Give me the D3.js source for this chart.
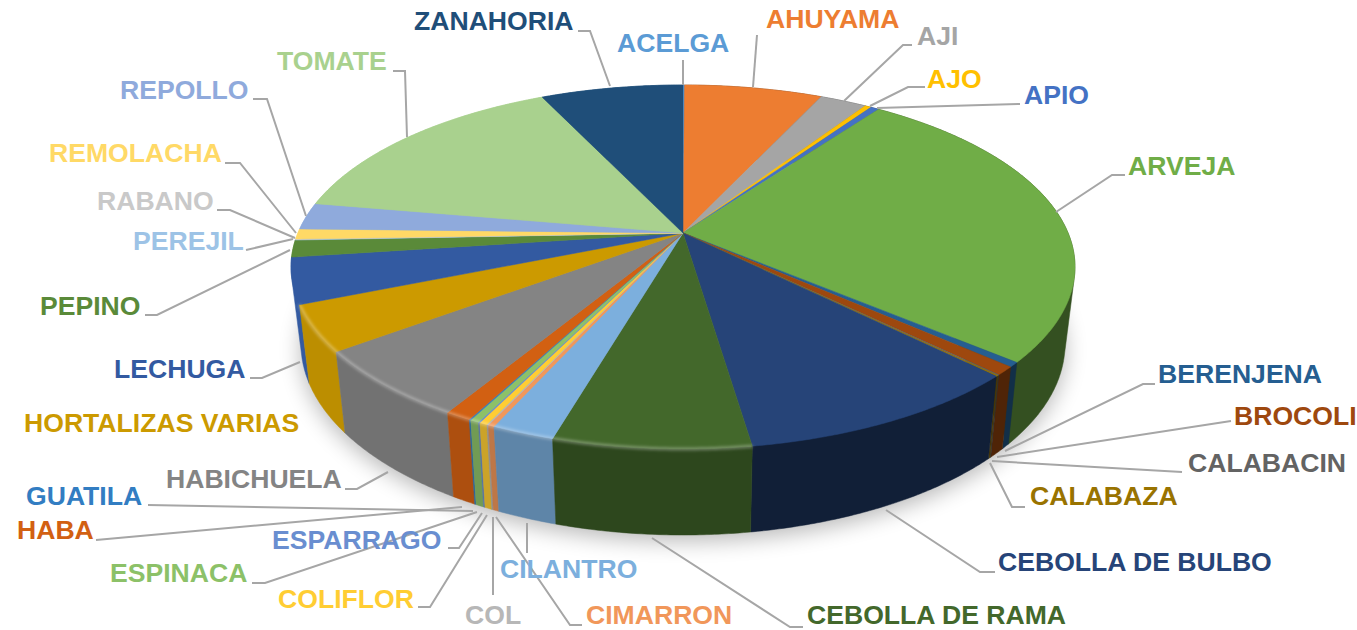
<!DOCTYPE html>
<html>
<head>
<meta charset="utf-8">
<script src="https://cdn.jsdelivr.net/npm/d3@7"></script>
<style>
  html, body { margin: 0; padding: 0; background: #fff; }
  text { font-family: "Liberation Sans", Arial, sans-serif; font-weight: bold; font-size: 26.6px; }
</style>
</head>
<body>
<svg width="1357" height="630"></svg>
<script>
// share of each crop (%)
let categories = ["ACELGA", "AHUYAMA", "AJI", "AJO", "APIO", "ARVEJA", "BERENJENA", "BROCOLI", "CALABACIN", "CALABAZA",
    "CEBOLLA DE BULBO", "CEBOLLA DE RAMA", "CILANTRO", "CIMARRON", "COL", "COLIFLOR", "ESPARRAGO", "ESPINACA", "GUATILA", "HABA",
    "HABICHUELA", "HORTALIZAS VARIAS", "LECHUGA", "PEPINO", "PEREJIL", "RABANO", "REMOLACHA", "REPOLLO", "TOMATE", "ZANAHORIA"];
let values = [0.08, 6.81, 2.33, 0.31, 0.42, 26.28, 0.42, 0.75, 0.06, 0.08,
    10.14, 6.83, 2.19, 0.22, 0.06, 0.28, 0.06, 0.31, 0.06, 0.92,
    6.17, 4.06, 4.06, 1.5, 0.06, 0.03, 0.92, 2.39, 15.22, 7.03];
let colors = ["#5B9BD5", "#ED7D31", "#A5A5A5", "#FFC000", "#4472C4", "#70AD47", "#255E91", "#9E480E", "#636363", "#997300",
    "#264478", "#43682B", "#7CAFDD", "#F1975A", "#B7B7B7", "#FFCD33", "#698ED0", "#8CC168", "#327DC2", "#D26012",
    "#848484", "#CC9A00", "#335AA1", "#5A8A39", "#9DC3E6", "#C9C9C9", "#FFD966", "#8FAADC", "#A9D18E", "#1F4E79"];

// label layout: [left x, middle y]
let labelPos = [[617, 43], [766, 19], [917, 36], [927, 79], [1024, 95], [1128, 166], [1158, 374], [1234, 416], [1188, 463], [1030, 496],
    [998, 562], [807, 615], [500, 569], [586, 615], [465, 615], [278, 599], [272, 540], [110, 573], [26, 496], [17, 530],
    [166, 479], [24, 423], [114, 369], [40, 306], [133, 241], [97, 201], [49, 153], [120, 90], [277, 61], [414, 21]];

// leader lines, same order as categories
let leaders = [
    [[683, 60], [683, 85]],
    [[757, 35], [753, 87]],
    [[844, 101], [903, 45], [912, 45]],
    [[870, 106], [908, 87], [925, 87]],
    [[877, 108], [1020, 104]],
    [[1056, 212], [1112, 175], [1125, 175]],
    [[1005, 451], [1143, 384], [1155, 384]],
    [[997, 457], [1231, 421]],
    [[992, 461], [1182, 472]],
    [[990, 463], [1012, 507], [1025, 507]],
    [[886, 510], [980, 572], [995, 572]],
    [[652, 538], [790, 627], [803, 627]],
    [[527, 523], [527, 553]],
    [[496, 517], [570, 625], [582, 625]],
    [[493, 517], [493, 595]],
    [[487, 515], [430, 607], [418, 607]],
    [[482, 513], [459, 548], [448, 548]],
    [[477, 512], [265, 583], [252, 583]],
    [[473, 511], [148, 505]],
    [[462, 507], [96, 540]],
    [[388, 472], [357, 489], [345, 489]],
    null,
    [[300, 362], [262, 378], [250, 378]],
    [[290, 250], [157, 315], [145, 315]],
    [[293, 239], [246, 250]],
    [[295, 238], [230, 210], [217, 210]],
    [[296, 233], [240, 163], [225, 163]],
    [[306, 216], [267, 99], [253, 99]],
    [[407, 137], [405, 71], [393, 71]],
    [[610, 86], [590, 31], [578, 31]]
];

let svg = d3.select("svg");

// top face and lower edge of the disc, as fitted ellipses
let xTop = d3.scaleLinear().domain([-1, 1]).range([291, 1075]);
let yTop = d3.scaleLinear().domain([-1, 1]).range([85, 449]);
let xBottom = d3.scaleLinear().domain([-1, 1]).range([301, 1065]);
let yBottom = d3.scaleLinear().domain([-1, 1]).range([153, 535]);

// perspective: the pie centre does not sit in the middle of the ellipse
let c = (233 - 267) / 182;
let s = Math.sqrt(1 - c * c);

function rim(theta) {
    let u = Math.sin(theta), v = -Math.cos(theta);
    let d = 1 + c * v;
    return { X: u * s / d, Y: (v + c) / d };
}
function topPoint(theta) {
    let p = rim(theta);
    return [xTop(p.X), yTop(p.Y)];
}
function bottomPoint(theta) {
    let p = rim(theta);
    return [xBottom(p.X), yBottom(p.Y)];
}
function sweep(a0, a1) {
    let n = Math.max(2, Math.ceil((a1 - a0) / 0.008));
    return d3.range(n + 1).map(function (i) { return a0 + (a1 - a0) * i / n; });
}

let line = d3.line();
let closed = d3.line().curve(d3.curveLinearClosed);

let defs = svg.append("defs");
defs.append("filter").attr("id", "shadow").attr("x", "-20%").attr("y", "-20%").attr("width", "140%").attr("height", "140%")
    .append("feGaussianBlur").attr("stdDeviation", 11);
defs.append("filter").attr("id", "soft").attr("x", "-20%").attr("y", "-20%").attr("width", "140%").attr("height", "140%")
    .append("feGaussianBlur").attr("stdDeviation", 1.6);

// soft shadow below the disc
svg.append("path")
    .attr("d", closed(sweep(0, 2 * Math.PI).map(bottomPoint)))
    .attr("transform", "translate(0,6)")
    .attr("fill", "#000")
    .attr("opacity", 0.28)
    .attr("filter", "url(#shadow)");

let slices = d3.pie().sort(null).value(function (d) { return d; })(values);

// side wall gets brighter going round to the left
let wallShade = d3.scaleLinear()
    .domain([90, 135, 155, 184, 200, 215, 235, 250])
    .range([0.46, 0.5, 0.45, 0.68, 0.76, 0.86, 0.88, 1])
    .clamp(true);
function degMid(d) {
    return (d.startAngle + d.endAngle) / 2 * 180 / Math.PI;
}
function wallColor(i) {
    let col = d3.rgb(colors[i]);
    let k = wallShade(degMid(slices[i]));
    return d3.rgb(col.r * k, col.g * k, col.b * k).formatHex();
}

let order = d3.range(slices.length).sort(function (a, b) {
    return topPoint((slices[a].startAngle + slices[a].endAngle) / 2)[1] - topPoint((slices[b].startAngle + slices[b].endAngle) / 2)[1];
});

// hull so the wall meets the rim without a kink at the far left and right
svg.append("g").selectAll("path")
    .data(order)
    .enter()
    .append("path")
    .attr("d", function (i) {
        let a = sweep(slices[i].startAngle, slices[i].endAngle);
        return closed(d3.polygonHull(a.map(topPoint).concat(a.map(bottomPoint))));
    })
    .attr("fill", wallColor)
    .attr("stroke", wallColor)
    .attr("stroke-width", 0.5);

svg.append("g").selectAll("path")
    .data(slices)
    .enter()
    .append("path")
    .attr("d", function (d) {
        return closed([[xTop(0), yTop(c)]].concat(sweep(d.startAngle, d.endAngle).map(topPoint)));
    })
    .attr("fill", function (d, i) { return colors[i]; })
    .attr("stroke", function (d, i) { return colors[i]; })
    .attr("stroke-width", 0.5);

// bevel highlight along the front left rim
let bevel = svg.append("g").attr("filter", "url(#soft)");
bevel.selectAll("path")
    .data(slices.filter(function (d) { return degMid(d) > 172 && degMid(d) < 250; }))
    .enter()
    .append("path")
    .attr("d", function (d) { return line(sweep(d.startAngle, d.endAngle).map(topPoint)); })
    .attr("fill", "none")
    .attr("stroke", "#fff")
    .attr("stroke-opacity", 0.32)
    .attr("stroke-width", 3);

svg.append("g").selectAll("path")
    .data(leaders.filter(function (d) { return d; }))
    .enter()
    .append("path")
    .attr("d", function (d) { return line(d); })
    .attr("fill", "none")
    .attr("stroke", "#A6A6A6")
    .attr("stroke-width", 2);

svg.append("g").selectAll("text")
    .data(categories)
    .enter()
    .append("text")
    .attr("x", function (d, i) { return labelPos[i][0]; })
    .attr("y", function (d, i) { return labelPos[i][1]; })
    .attr("dy", "0.35em")
    .attr("fill", function (d, i) { return colors[i]; })
    .text(function (d) { return d; });
</script>
</body>
</html>
